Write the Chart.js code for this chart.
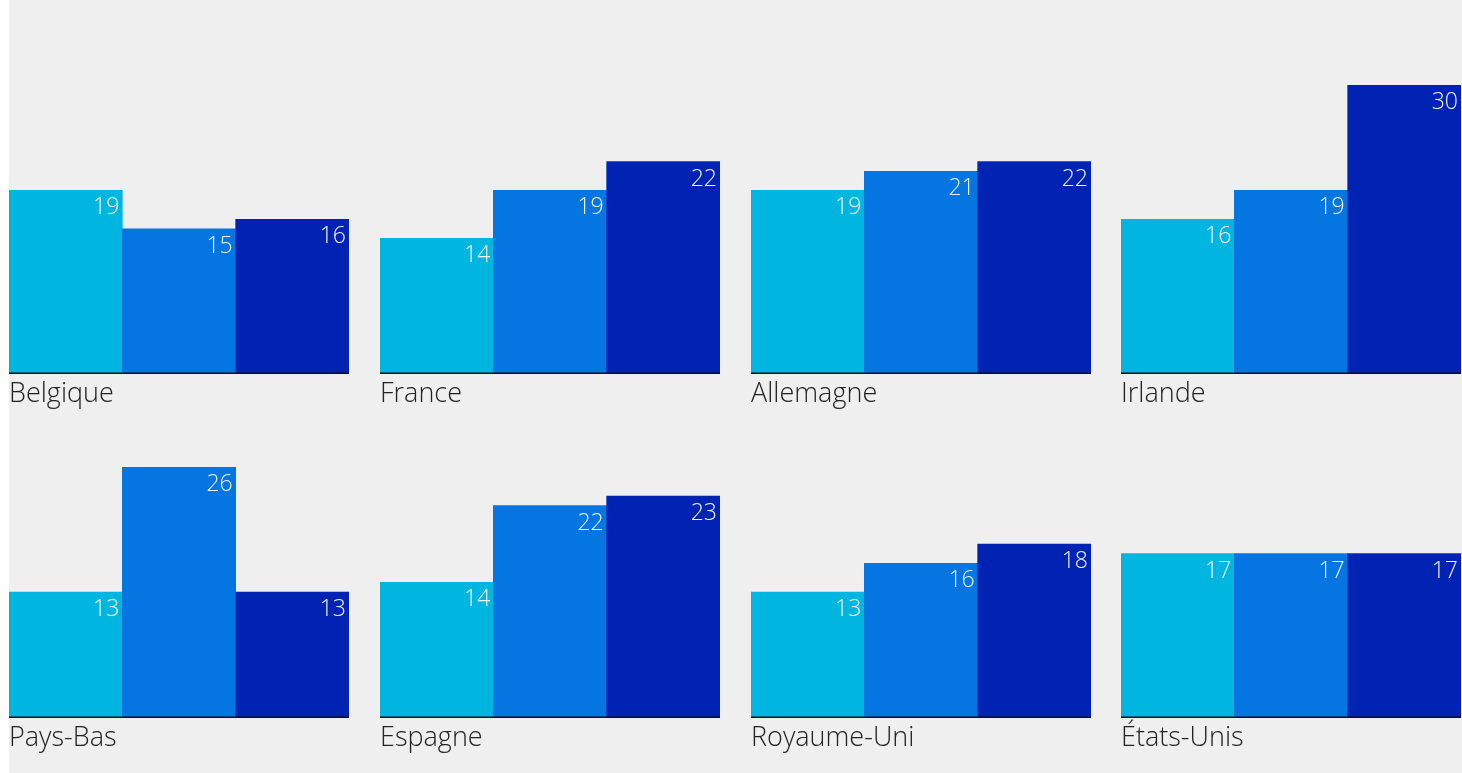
<!DOCTYPE html>
<html lang="fr">
<head>
<meta charset="utf-8">
<title>Graphiques par pays</title>
<script src="https://cdn.jsdelivr.net/npm/chart.js@4/dist/chart.umd.min.js"></script>
<style>
    body { margin: 0; background: #ffffff; width: 1462px; height: 773px; overflow: hidden; }
    #fond { position: absolute; left: 9px; top: 0; width: 1453px; height: 773px; background: #efefef; }
    .graphique { position: absolute; }
</style>
</head>
<body>
<div id="fond"></div>
<div id="grille"></div>
<script>
// Données (un pays par petit graphique)
var pays = ["Belgique", "France", "Allemagne", "Irlande", "Pays-Bas", "Espagne", "Royaume-Uni", "États-Unis"];
var serie1 = [19, 14, 19, 16, 13, 14, 13, 17];
var serie2 = [15, 19, 21, 19, 26, 22, 16, 17];
var serie3 = [16, 22, 22, 30, 13, 23, 18, 17];
var echelleMax = 30;

// Couleurs des trois barres
var couleurs = ["#00b5e0", "#0575e2", "#0023b4"];

// Positions des colonnes et des lignes de la grille
var colonnes = [9, 380, 751, 1121];
var lignes = [85, 429];
var largeur = 340;
var hauteur = 326;
var police = "'Open Sans', 'Liberation Sans', Arial, sans-serif";

// Plugin pour écrire la valeur en haut à droite de chaque barre
var etiquettesValeurs = {
    id: "etiquettesValeurs",
    afterDatasetsDraw: function (chart) {
        var ctx = chart.ctx;
        var meta = chart.getDatasetMeta(0);
        var valeurs = chart.data.datasets[0].data;
        ctx.save();
        ctx.fillStyle = "#f2f5ff";
        ctx.font = "300 23px " + police;
        ctx.textAlign = "right";
        ctx.textBaseline = "alphabetic";
        meta.data.forEach(function (barre, i) {
            ctx.fillText(String(valeurs[i]), barre.x + barre.width / 2 - 3, barre.y + 24);
        });
        ctx.restore();
    }
};

function creerGraphique(index) {
    var grille = document.getElementById("grille");
    var canvas = document.createElement("canvas");
    canvas.className = "graphique";
    canvas.width = largeur;
    canvas.height = hauteur;
    canvas.style.left = colonnes[index % 4] + "px";
    canvas.style.top = lignes[Math.floor(index / 4)] + "px";
    canvas.style.width = largeur + "px";
    canvas.style.height = hauteur + "px";
    grille.appendChild(canvas);

    new Chart(canvas, {
        type: "bar",
        data: {
            labels: ["1", "2", "3"],
            datasets: [{
                data: [serie1[index], serie2[index], serie3[index]],
                backgroundColor: couleurs,
                borderWidth: 0,
                categoryPercentage: 1,
                barPercentage: 1
            }]
        },
        options: {
            responsive: false,
            animation: false,
            devicePixelRatio: 1,
            layout: { padding: 0 },
            plugins: {
                legend: { display: false },
                tooltip: { enabled: false }
            },
            scales: {
                x: {
                    grid: { display: false, drawTicks: false },
                    border: { display: true, color: "#111111", width: 2 },
                    ticks: { display: false },
                    title: {
                        display: true,
                        text: pays[index],
                        align: "start",
                        color: "#222222",
                        font: { family: police, size: 27, weight: "300" },
                        padding: { top: 6, bottom: 0 }
                    }
                },
                y: {
                    display: false,
                    min: 0,
                    max: echelleMax
                }
            }
        },
        plugins: [etiquettesValeurs]
    });
}

document.addEventListener("DOMContentLoaded", function () {
    for (var i = 0; i < pays.length; i++) {
        creerGraphique(i);
    }
});
</script>
</body>
</html>
